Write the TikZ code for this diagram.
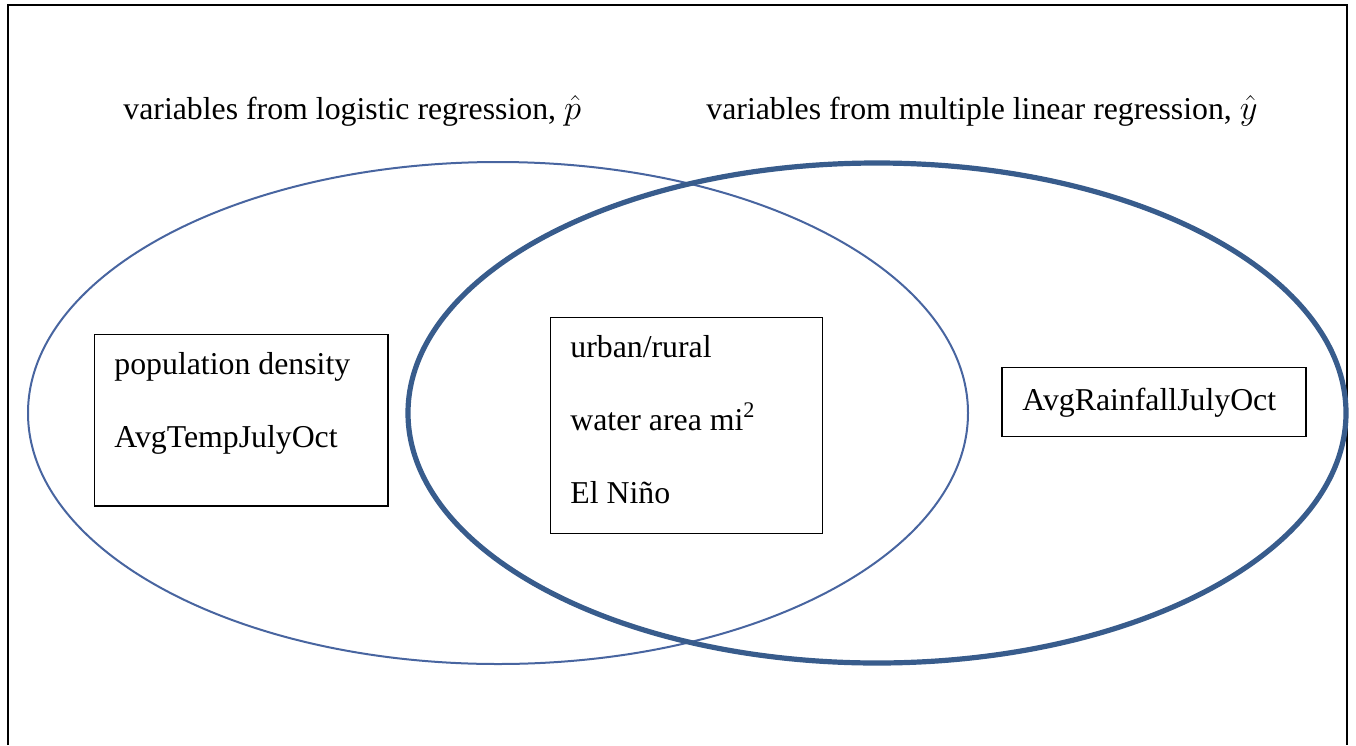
\documentclass[tikz,border=0pt]{standalone}
\usepackage{fontspec}
\setmainfont{Liberation Serif}
\usepackage{tikz}
\usetikzlibrary{positioning}
\definecolor{setthin}{RGB}{72,101,160}
\definecolor{setthick}{RGB}{56,92,140}

\begin{document}
\begin{tikzpicture}[x=0.5pt,y=-0.5pt,
    every node/.style={font=\fontsize{15.9}{19}\selectfont,inner sep=0pt},
    varbox/.style={draw,line width=0.75pt,anchor=north west},
    var/.style={anchor=base west}]
    \useasboundingbox (0,0) rectangle (1356,745);
    \draw[line width=1pt] (8,745) -- (8,5) -- (1347,5) -- (1347,745);

    \draw[setthin,line width=1pt] (498,413) ellipse (470 and 251);
    \draw[setthick,line width=2.6pt] (877,413) ellipse (469 and 250);

    \node[var] (logit) at (123,119) {variables from logistic regression, $\hat{p}$};
    \node[var] (mlr) at (706,119) {variables from multiple linear regression, $\hat{y}$};

    \node[varbox,minimum width=146.8pt,minimum height=85.8pt] (left) at (93.5,333.5) {};
    \node[var] (popden) at (114,374) {population density};
    \node[var] (temp) at (114,447) {AvgTempJulyOct};

    \node[varbox,minimum width=136pt,minimum height=108pt] (mid) at (549.5,316.5) {};
    \node[var] (urban) at (570,357) {urban/rural};
    \node[var] (water) at (570,430) {water area mi\textsuperscript{2}};
    \node[var] (nino) at (570,503) {El Niño};

    \node[varbox,minimum width=152pt,minimum height=34.5pt] (right) at (1001,366.5) {};
    \node[var] (rain) at (1022,410) {AvgRainfallJulyOct};
\end{tikzpicture}
\end{document}
